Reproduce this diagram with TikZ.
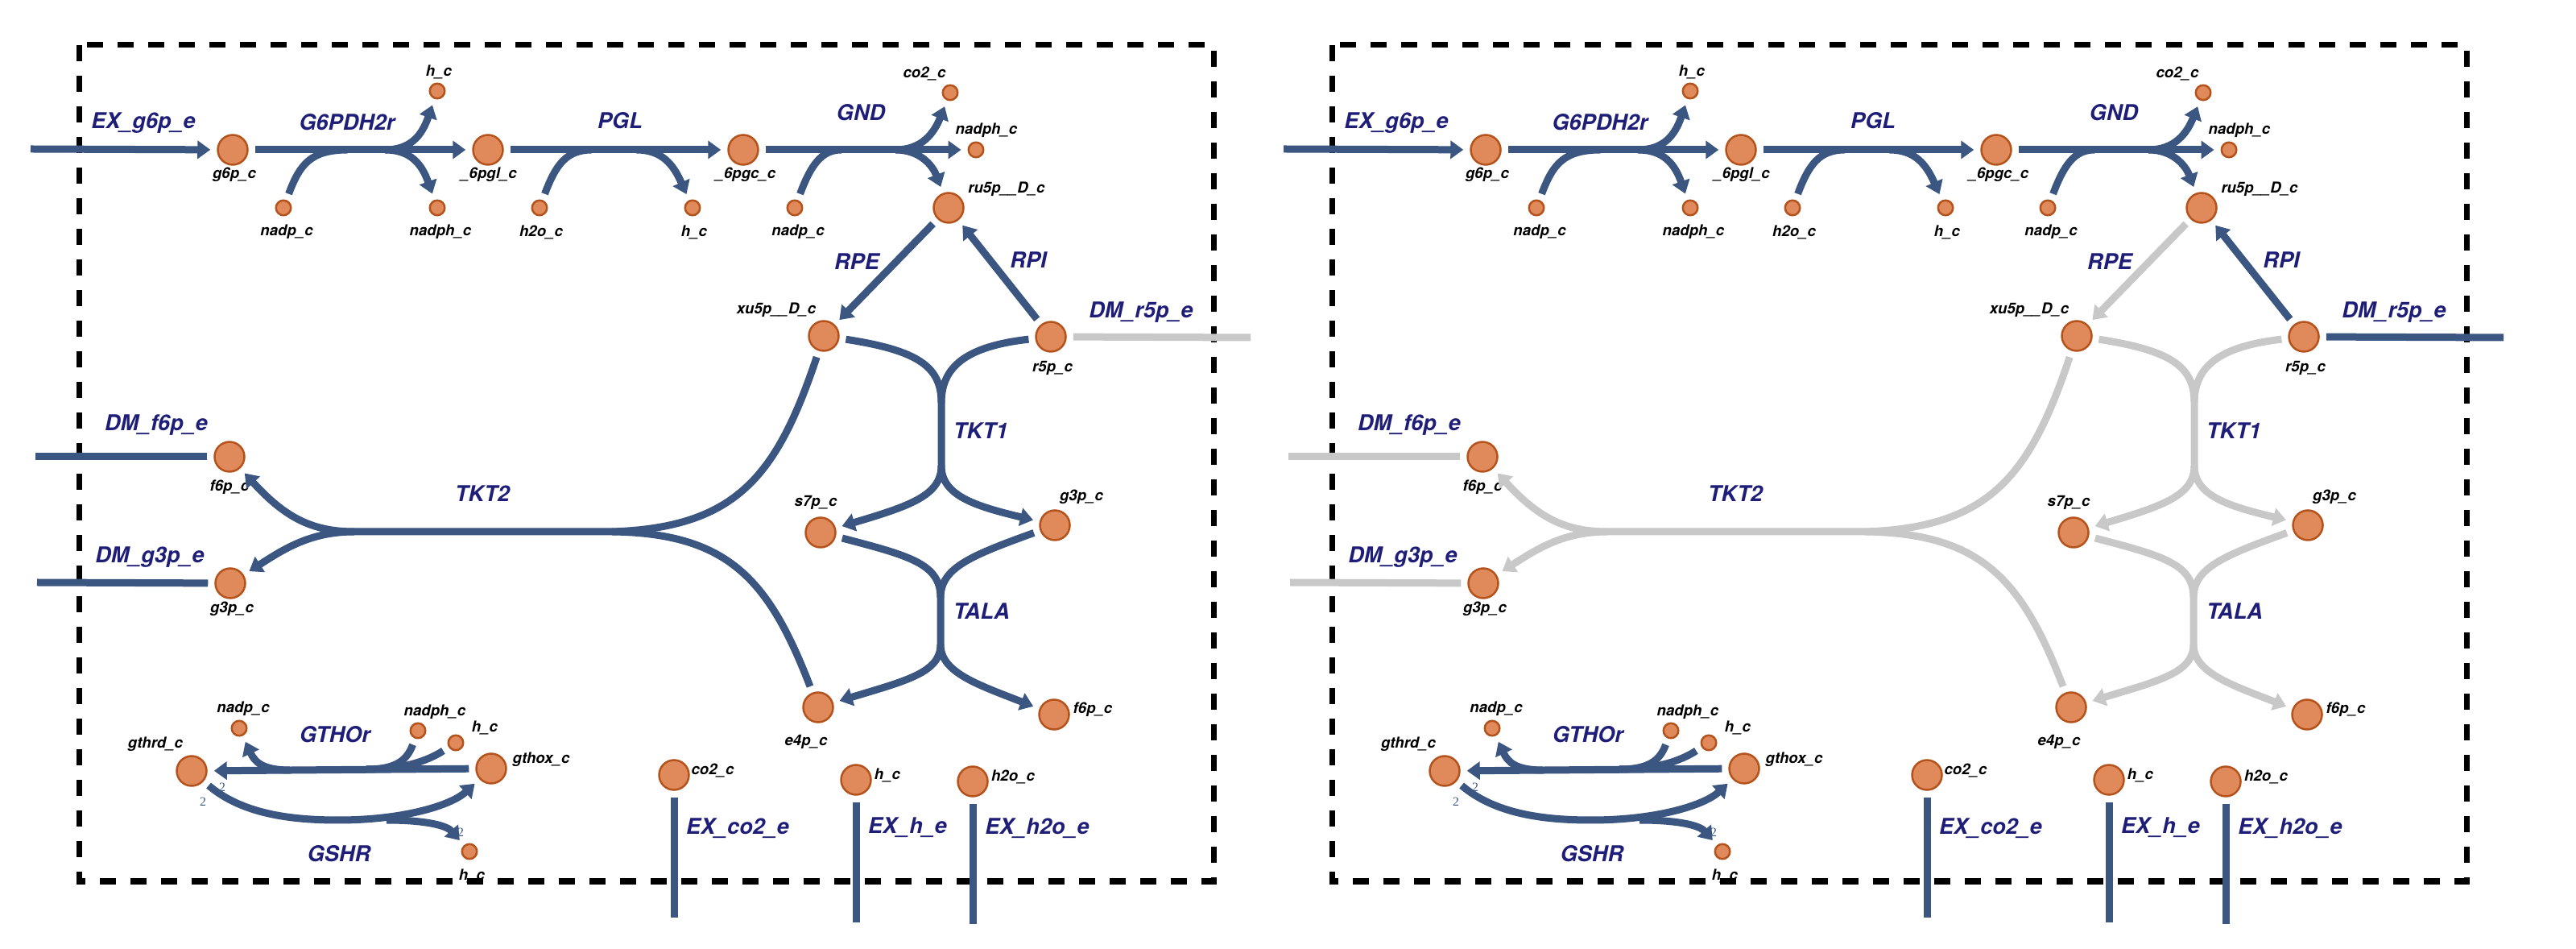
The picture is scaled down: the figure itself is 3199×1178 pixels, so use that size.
\documentclass[tikz,border=0pt]{standalone}
\usepackage{fontspec}
\setsansfont{TeX Gyre Heros}
\newfontfamily\stoichfont{Liberation Serif}
\usetikzlibrary{arrows.meta}

\definecolor{fluxblue}{HTML}{3B5680}
\definecolor{nofluxgrey}{HTML}{C8C8C8}
\definecolor{metfill}{HTML}{E0895A}
\definecolor{metline}{HTML}{B4531C}
\definecolor{rxnnavy}{HTML}{1E1E78}

\begin{document}
\begin{tikzpicture}[x=0.1mm, y=-0.1mm,
  metbig/.style={circle, fill=metfill, draw=metline, line width=0.25mm, minimum size=3.7mm, inner sep=0pt},
  metsmall/.style={metbig, minimum size=1.85mm},
  metlabel/.style={font=\sffamily\bfseries\itshape\fontsize{5.3}{6}\selectfont, inner sep=0pt},
  rxnlabel/.style={text=rxnnavy, font=\sffamily\bfseries\itshape\fontsize{7.7}{9}\selectfont, inner sep=0pt},
  stoich/.style={text=fluxblue, font=\stoichfont\fontsize{4.5}{5}\selectfont, inner sep=0pt},
  rxn/.style={line width=0.9mm},
  fromnode/.style={shorten <=0.8mm},
  tonode/.style={shorten >=0.8mm},
  headed/.style={-{Triangle[width=2.2mm,length=1.6mm]}},
  rxnon/.style={draw=fluxblue},
  compartment/.style={draw=black, line width=0.7mm, dash pattern=on 2mm off 1.8mm}]

  \useasboundingbox (0,0) rectangle (3199,1178);

  % L: wild type, R: same map with TKT/TALA fluxes off
  \foreach \p/\dx/\ca/\cb in {L/0/fluxblue/nofluxgrey, R/1556/nofluxgrey/fluxblue}{
  \begin{scope}[shift={(\dx,0)}]

    %compartment
    \draw[compartment] (98,56) rectangle (1507,1094);

    %metabolites
    \foreach \n/\x/\y in {g6p/289/186, 6pgl/606/186, 6pgc/923/186, ru5p/1178/258, xu5p/1023/417, r5p/1305/418,
                          s7p/1019/661, g3p/1310/652, e4p/1016/878, f6p/1309/887, f6pb/285/567, g3pb/286/724,
                          gthrd/238/957, gthox/610/954, co2b/837/962, hb/1063/968, h2ob/1208/970}{
      \node[metbig] (\p\n) at (\x,\y) {};
    }
    \foreach \n/\x/\y in {ha/543/113, nadpa/352/258, nadpha/543/258, h2oa/670/258, hc/860/258, nadpb/987/258,
                          co2a/1180/115, nadphb/1212/186, nadpc/297/904, nadphc/519/907, hd/566/922, he/583/1057}{
      \node[metsmall] (\p\n) at (\x,\y) {};
    }

    %metabolite names
    \foreach \n/\x/\y/\t in {g6p/291/217/g6p\_c, 6pgl/607/217/\_6pgl\_c, 6pgc/926/217/\_6pgc\_c,
                             ru5p/1250/235/ru5p\_\_D\_c, xu5p/964/385/xu5p\_\_D\_c, r5p/1307/457/r5p\_c,
                             s7p/1013/624/s7p\_c, g3p/1343/617/g3p\_c, e4p/1001/921/e4p\_c, f6p/1357/881/f6p\_c,
                             f6pb/285/605/f6p\_c, g3pb/288/756/g3p\_c, gthrd/193/924/gthrd\_c, gthox/672/943/gthox\_c,
                             co2b/885/957/co2\_c, hb/1102/962/h\_c, h2ob/1258/964/h2o\_c,
                             ha/545/89/h\_c, nadpa/356/288/nadp\_c, nadpha/547/288/nadph\_c, h2oa/672/288/h2o\_c,
                             hc/862/288/h\_c, nadpb/991/288/nadp\_c, co2a/1148/92/co2\_c, nadphb/1225/162/nadph\_c,
                             nadpc/302/880/nadp\_c, nadphc/540/884/nadph\_c, hd/602/903/h\_c, he/586/1087/h\_c}{
      \node[metlabel] (\p l\n) at (\x,\y) {\t};
    }

    %reaction names
    \foreach \n/\x/\y/\t in {exg6p/178/153/EX\_g6p\_e, g6pdh/431/152/G6PDH2r, pgl/770/150/PGL, gnd/1069/140/GND,
                             rpe/1064/325/RPE, rpi/1277/323/RPI, dmr5p/1417/388/DM\_r5p\_e, tkt1/1218/535/TKT1,
                             tkt2/599/613/TKT2, tala/1219/759/TALA, dmf6p/194/528/DM\_f6p\_e, dmg3p/186/692/DM\_g3p\_e,
                             gthor/416/912/GTHOr, gshr/421/1060/GSHR, exco2/916/1028/EX\_co2\_e,
                             exh/1127/1027/EX\_h\_e, exh2o/1288/1028/EX\_h2o\_e}{
      \node[rxnlabel] (\p r\n) at (\x,\y) {\t};
    }

    %stoichiometry
    \node[stoich] (\p sa) at (276,977) {2};
    \node[stoich] (\p sb) at (252,995) {2};
    \node[stoich] (\p sc) at (572,1033) {2};

    %free ends and branch points
    \foreach \n/\x/\y in {exin/38/185, ja/432/186, jb/478/186, jc/735/186, jd/790/186, je/1045/186, jf/1112/186,
                          dmr5pend/1553/419, t1a/1169/500, t1b/1169/578, tla/1168/742, tlb/1168/800,
                          t2a/760/660, t2b/440/660, dmf6pend/44/567, dmg3pend/46/723, gta/455/955, gtb/360/956,
                          gsa/420/1018, gsb/480/1018, exco2end/837/1139, exhend/1063/1145, exh2oend/1208/1147}{
      \coordinate (\p\n) at (\x,\y);
    }

    %EX_g6p_e, G6PDH2r, PGL, GND
    \draw[rxn, rxnon, tonode, headed] (\p exin) -- (\p g6p);
    \draw[rxn, rxnon, fromnode, tonode, headed] (\p g6p) -- (\p 6pgl);
    \draw[rxn, rxnon, fromnode] (\p nadpa) .. controls (372,205) and (385,186) .. (\p ja);
    \draw[rxn, rxnon, tonode, headed] (\p jb) .. controls (510,186) and (524,168) .. (\p ha);
    \draw[rxn, rxnon, tonode, headed] (\p jb) .. controls (510,186) and (524,204) .. (\p nadpha);

    \draw[rxn, rxnon, fromnode, tonode, headed] (\p 6pgl) -- (\p 6pgc);
    \draw[rxn, rxnon, fromnode] (\p h2oa) .. controls (690,205) and (703,186) .. (\p jc);
    \draw[rxn, rxnon, tonode, headed] (\p jd) .. controls (822,186) and (836,204) .. (\p hc);

    \draw[rxn, rxnon, fromnode, tonode, headed] (\p 6pgc) -- (\p nadphb);
    \draw[rxn, rxnon, fromnode] (\p nadpb) .. controls (1007,205) and (1020,186) .. (\p je);
    \draw[rxn, rxnon, tonode, headed] (\p jf) .. controls (1145,186) and (1160,165) .. (\p co2a);
    \draw[rxn, rxnon, tonode, headed] (\p jf) .. controls (1142,186) and (1158,205) .. (\p ru5p);

    %RPE, RPI, DM_r5p_e
    \draw[rxn, draw=\ca, fromnode, tonode, headed] (\p ru5p) -- (\p xu5p);
    \draw[rxn, rxnon, fromnode, tonode, headed] (\p r5p) -- (\p ru5p);
    \draw[rxn, draw=\cb, fromnode] (\p r5p) -- (\p dmr5pend);

    %TKT1
    \draw[rxn, draw=\ca, fromnode, tonode, headed] (\p xu5p) .. controls (1140,435) and (1169,455) .. (\p t1a)
         -- (\p t1b) .. controls (1169,615) and (1130,628) .. (\p s7p);
    \draw[rxn, draw=\ca, fromnode] (\p r5p) .. controls (1200,430) and (1169,455) .. (\p t1a);
    \draw[rxn, draw=\ca, tonode, headed] (\p t1b) .. controls (1169,615) and (1210,628) .. (\p g3p);

    %TALA
    \draw[rxn, draw=\ca, fromnode, tonode, headed] (\p s7p) .. controls (1130,690) and (1168,700) .. (\p tla)
         -- (\p tlb) .. controls (1168,835) and (1125,845) .. (\p e4p);
    \draw[rxn, draw=\ca, fromnode] (\p g3p) .. controls (1205,690) and (1168,705) .. (\p tla);
    \draw[rxn, draw=\ca, tonode, headed] (\p tlb) .. controls (1168,835) and (1215,850) .. (\p f6p);

    %TKT2
    \draw[rxn, draw=\ca, fromnode, tonode, headed] (\p xu5p) .. controls (965,590) and (915,655) .. (\p t2a)
         -- (\p t2b) .. controls (385,660) and (352,640) .. (\p f6pb);
    \draw[rxn, draw=\ca, fromnode] (\p e4p) .. controls (955,720) and (905,662) .. (\p t2a);
    \draw[rxn, draw=\ca, tonode, headed] (\p t2b) .. controls (385,660) and (352,682) .. (\p g3pb);

    %DM_f6p_e, DM_g3p_e
    \draw[rxn, draw=\ca, fromnode] (\p f6pb) -- (\p dmf6pend);
    \draw[rxn, draw=\ca, fromnode] (\p g3pb) -- (\p dmg3pend);

    %GTHOr
    \draw[rxn, rxnon, fromnode, tonode, headed] (\p gthox) -- (\p gthrd);
    \draw[rxn, rxnon, fromnode] (\p nadphc) .. controls (505,945) and (490,955) .. (\p gta);
    \draw[rxn, rxnon, fromnode] (\p hd) .. controls (530,945) and (500,955) .. (\p gta);
    \draw[rxn, rxnon, tonode, headed] (\p gtb) .. controls (325,956) and (316,945) .. (\p nadpc);

    %GSHR
    \draw[rxn, rxnon, fromnode, tonode, headed] (\p gthrd) .. controls (300,1010) and (360,1018) .. (\p gsa)
         .. controls (500,1018) and (560,1000) .. (\p gthox);
    \draw[rxn, rxnon, tonode, headed] (\p gsb) .. controls (530,1018) and (555,1025) .. (\p he);

    %exchanges
    \draw[rxn, rxnon, fromnode] (\p co2b) -- (\p exco2end);
    \draw[rxn, rxnon, fromnode] (\p hb) -- (\p exhend);
    \draw[rxn, rxnon, fromnode] (\p h2ob) -- (\p exh2oend);

  \end{scope}
  }

\end{tikzpicture}
\end{document}
